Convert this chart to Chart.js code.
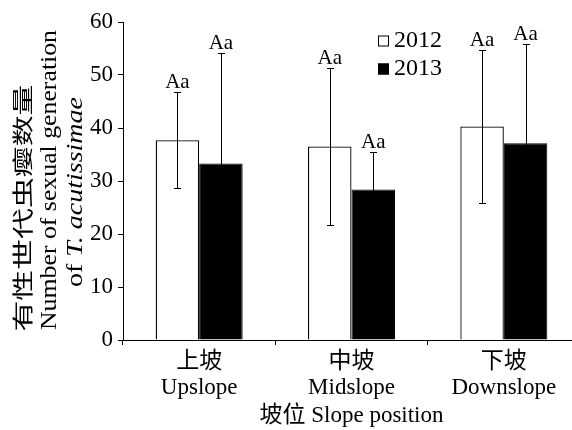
<!DOCTYPE html>
<html>
<head>
<meta charset="utf-8">
<script src="https://cdn.jsdelivr.net/npm/chart.js@4.4.1/dist/chart.umd.min.js"></script>
<style>
  html, body { margin: 0; padding: 0; background: #fff; overflow: hidden; width: 572px; height: 430px; }
  canvas { display: block; }
</style>
</head>
<body>
<canvas id="c" width="580" height="430"></canvas>
<script>
// Slope positions (Chinese + English, one line each)
const categories = [['上坡', 'Upslope'], ['中坡', 'Midslope'], ['下坡', 'Downslope']];
const years = ['2012', '2013'];
// Mean number of sexual-generation galls and their error-bar half widths
const means2012 = [37.7, 36.5, 40.3];
const means2013 = [33.3, 28.4, 37.1];
const err2012 = [9.1, 14.8, 14.5];
const err2013 = [20.9, 7.1, 18.7];
// Significance letters above each bar
const letters2012 = ['Aa', 'Aa', 'Aa'];
const letters2013 = ['Aa', 'Aa', 'Aa'];
const yTicks = [0, 10, 20, 30, 40, 50, 60];

const SERIF = "'Liberation Serif', 'Times New Roman', 'Noto Sans CJK SC', serif";
const CJK = "'Noto Sans CJK SC', sans-serif";

const errors = [err2012, err2013];
const letters = [letters2012, letters2013];

// Error bars plus letter labels on top of each bar
const errorBarPlugin = {
  id: 'errorBars',
  afterDatasetsDraw(chart) {
    const ctx = chart.ctx;
    const y = chart.scales.y;
    ctx.save();
    ctx.strokeStyle = '#000';
    ctx.lineWidth = 1;
    ctx.fillStyle = '#000';
    ctx.font = "21px " + SERIF;
    ctx.textAlign = 'center';
    ctx.textBaseline = 'alphabetic';
    chart.data.datasets.forEach((ds, di) => {
      const meta = chart.getDatasetMeta(di);
      meta.data.forEach((bar, i) => {
        const v = ds.data[i];
        const e = errors[di][i];
        const x = Math.round(bar.x) + 0.5;
        const top = Math.round(y.getPixelForValue(v + e)) + 0.5;
        const bot = Math.round(y.getPixelForValue(v - e)) + 0.5;
        ctx.beginPath();
        ctx.moveTo(x, top); ctx.lineTo(x, bot);
        ctx.moveTo(x - 3.5, top); ctx.lineTo(x + 3.5, top);
        ctx.moveTo(x - 3.5, bot); ctx.lineTo(x + 3.5, bot);
        ctx.stroke();
        ctx.fillText(letters[di][i], bar.x, top - 4.5);
      });
    });
    ctx.restore();
  }
};

// Legend boxes in the upper right of the plot
const legendPlugin = {
  id: 'cornerLegend',
  afterDraw(chart) {
    const ctx = chart.ctx;
    ctx.save();
    ctx.font = "24px " + SERIF;
    ctx.textBaseline = 'middle';
    ctx.textAlign = 'left';
    chart.data.datasets.forEach((ds, i) => {
      const cy = 41 + i * 28;
      ctx.fillStyle = ds.backgroundColor;
      ctx.fillRect(378, cy - 5.5, 11, 11);
      ctx.strokeStyle = '#000';
      ctx.lineWidth = 1;
      ctx.strokeRect(378.5, cy - 5, 10, 10);
      ctx.fillStyle = '#000';
      ctx.fillText(ds.label, 394, cy);
    });
    ctx.restore();
  }
};

// Three-line rotated y-axis title, each line stretched to its length
const yTitlePlugin = {
  id: 'yTitle',
  afterDraw(chart) {
    const ctx = chart.ctx;
    const drawLine = (segments, baseX, centerY, length, baseline) => {
      ctx.save();
      let w = 0;
      segments.forEach(s => { ctx.font = s.font; w += ctx.measureText(s.text).width; });
      const sx = length / w;
      ctx.translate(baseX, centerY);
      ctx.rotate(-Math.PI / 2);
      ctx.scale(sx, 1);
      ctx.fillStyle = '#000';
      ctx.textBaseline = baseline;
      ctx.textAlign = 'left';
      let x = -w / 2;
      segments.forEach(s => {
        ctx.font = s.font;
        ctx.fillText(s.text, x, 0);
        x += ctx.measureText(s.text).width;
      });
      ctx.restore();
    };
    drawLine([{ text: '有性世代虫瘿数量', font: '21px ' + CJK }], 22, 208, 247, 'middle');
    drawLine([{ text: 'Number of sexual generation', font: '23px ' + SERIF }], 56, 180, 300, 'alphabetic');
    drawLine([
      { text: 'of ', font: '23px ' + SERIF },
      { text: 'T. acutissimae', font: 'italic 23px ' + SERIF }
    ], 82, 192, 190, 'alphabetic');
  }
};

new Chart(document.getElementById('c'), {
  type: 'bar',
  data: {
    labels: categories,
    datasets: [
      {
        label: years[0], data: means2012,
        backgroundColor: '#ffffff', borderColor: '#000000', borderWidth: 1.3,
        categoryPercentage: 0.571, barPercentage: 1.0
      },
      {
        label: years[1], data: means2013,
        backgroundColor: '#000000', borderColor: '#000000', borderWidth: 1,
        categoryPercentage: 0.571, barPercentage: 1.0
      }
    ]
  },
  options: {
    responsive: false,
    animation: false,
    devicePixelRatio: 1,
    layout: { padding: { left: 0, right: 0, top: 22, bottom: 0 } },
    plugins: { legend: { display: false }, tooltip: { enabled: false } },
    scales: {
      x: {
        offset: true,
        grid: { display: true, offset: true, drawOnChartArea: false, drawTicks: true, tickLength: 5, color: '#000' },
        border: { display: true, color: '#000', width: 1 },
        ticks: { font: { family: SERIF, size: 23, lineHeight: 1.13 }, color: '#000', padding: 4, maxRotation: 0, autoSkip: false },
        title: { display: true, text: '坡位 Slope position', font: { family: SERIF, size: 23, lineHeight: 1.2 }, color: '#000', padding: 0 },
        afterFit(s) { s.height = 90; }
      },
      y: {
        min: 0, max: 60,
        afterBuildTicks(s) { s.ticks = yTicks.map(v => ({ value: v })); },
        ticks: { font: { family: SERIF, size: 23 }, color: '#000', padding: 5 },
        grid: { display: true, drawOnChartArea: false, drawTicks: true, tickLength: 5, color: '#000' },
        border: { display: true, color: '#000', width: 1 },
        afterFit(s) { s.width = 123; }
      }
    }
  },
  plugins: [errorBarPlugin, legendPlugin, yTitlePlugin]
});
</script>
</body>
</html>
